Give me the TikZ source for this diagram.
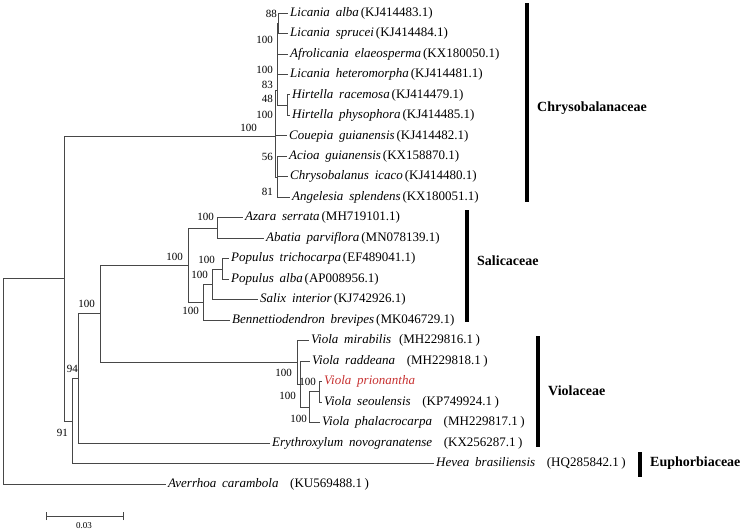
\documentclass[tikz,border=0pt]{standalone}
\usepackage{fontspec}
\setmainfont{Liberation Serif}
\definecolor{vred}{RGB}{200,50,50}
\newcommand\spa[3]{\textit{#1}\hspace{0.45em}\textit{#2}\hspace{0.15em}(#3)}
\newcommand\spb[3]{\textit{#1}\hspace{0.45em}\textit{#2}\hspace{0.9em}(#3\hspace{0.2em})}
\begin{document}
\begin{tikzpicture}[x=1pt,y=-1pt,
  br/.style={draw=black!72, line width=0.85pt},
  leaf/.style={anchor=west, inner xsep=2pt, inner ysep=0pt, font=\fontsize{13}{15}\selectfont, text height=8.8pt, text depth=2.6pt},
  bs/.style={anchor=east, inner sep=0pt, font=\fontsize{11}{12}\selectfont},
  fam/.style={anchor=west, inner sep=0pt, font=\fontsize{14}{16}\selectfont\bfseries},
  fbar/.style={line width=3.6pt, black}]
\useasboundingbox[fill=white] (0,0) rectangle (745,530);

% internal nodes
\coordinate (root) at (3,381.2);
\coordinate (n4) at (64,278.45);
\coordinate (n3) at (72.7,421);
\coordinate (n2) at (78,378.45);
\coordinate (sv) at (100,313.8);
\coordinate (s0) at (188,265.2);
\coordinate (s1) at (217,228.05);
\coordinate (s2) at (203,302.3);
\coordinate (s4) at (212,284.35);
\coordinate (s3) at (222,269);
\coordinate (v0) at (297,362.45);
\coordinate (v1) at (300,384.2);
\coordinate (v2) at (309,407.2);
\coordinate (v3) at (319,391.85);
\coordinate (c0) at (275,136);
\coordinate (cb) at (277,90);
\coordinate (ca) at (278.5,23.25);
\coordinate (ch) at (287,105.15);
\coordinate (cc) at (277,177);

% leaves
\node[leaf] (l0) at (288,13.0) {\spa{Licania}{alba}{KJ414483.1}};
\node[leaf] (l1) at (288,33.5) {\spa{Licania}{sprucei}{KJ414484.1}};
\node[leaf] (l2) at (288,54.0) {\spa{Afrolicania}{elaeosperma}{KX180050.1}};
\node[leaf] (l3) at (288,74.4) {\spa{Licania}{heteromorpha}{KJ414481.1}};
\node[leaf] (l4) at (290,94.9) {\spa{Hirtella}{racemosa}{KJ414479.1}};
\node[leaf] (l5) at (290,115.4) {\spa{Hirtella}{physophora}{KJ414485.1}};
\node[leaf] (l6) at (287,135.9) {\spa{Couepia}{guianensis}{KJ414482.1}};
\node[leaf] (l7) at (287,156.4) {\spa{Acioa}{guianensis}{KX158870.1}};
\node[leaf] (l8) at (288,176.8) {\spa{Chrysobalanus}{icaco}{KJ414480.1}};
\node[leaf] (l9) at (290,197.3) {\spa{Angelesia}{splendens}{KX180051.1}};
\node[leaf] (l10) at (243,217.8) {\spa{Azara}{serrata}{MH719101.1}};
\node[leaf] (l11) at (264,238.3) {\spa{Abatia}{parviflora}{MN078139.1}};
\node[leaf] (l12) at (229,258.8) {\spa{Populus}{trichocarpa}{EF489041.1}};
\node[leaf] (l13) at (229,279.2) {\spa{Populus}{alba}{AP008956.1}};
\node[leaf] (l14) at (258,299.7) {\spa{Salix}{interior}{KJ742926.1}};
\node[leaf] (l15) at (230,320.2) {\spa{Bennettiodendron}{brevipes}{MK046729.1}};
\node[leaf] (l16) at (309,340.7) {\textit{Viola}\hspace{0.45em}\textit{mirabilis}\hspace{0.6em}(MH229816.1\hspace{0.2em})};
\node[leaf] (l17) at (310,361.2) {\spb{Viola}{raddeana}{MH229818.1}};
\node[leaf,text=vred] (l18) at (322,381.6) {\textit{Viola}\hspace{0.45em}\textit{prionantha}};
\node[leaf] (l19) at (322,402.1) {\spb{Viola}{seoulensis}{KP749924.1}};
\node[leaf] (l20) at (320,422.6) {\spb{Viola}{phalacrocarpa}{MH229817.1}};
\node[leaf] (l21) at (270,443.1) {\spb{Erythroxylum}{novogranatense}{KX256287.1}};
\node[leaf] (l22) at (434,463.6) {\spb{Hevea}{brasiliensis}{HQ285842.1}};
\node[leaf] (l23) at (166,484.0) {\spb{Averrhoa}{carambola}{KU569488.1}};

% branches
\draw[br] (root) |- (n4);
\draw[br] (root) |- (l23.west);
\draw[br] (n4) |- (c0);
\draw[br] (n4) |- (n3);
\draw[br] (n3) |- (n2);
\draw[br] (n3) |- (l22.west);
\draw[br] (n2) |- (sv);
\draw[br] (n2) |- (l21.west);
\draw[br] (sv) |- (s0);
\draw[br] (sv) |- (v0);
% Chrysobalanaceae
\draw[br] (c0) |- (cb);
\draw[br] (c0) |- (l6.west);
\draw[br] (c0) |- (cc);
\draw[br] (cb) |- (ca);
\draw[br] (cb) |- (l2.west);
\draw[br] (cb) |- (l3.west);
\draw[br] (cb) |- (ch);
\draw[br] (ca) |- (l0.west);
\draw[br] (ca) |- (l1.west);
\draw[br] (ch) |- (l4.west);
\draw[br] (ch) |- (l5.west);
\draw[br] (cc) |- (l7.west);
\draw[br] (cc) |- (l8.west);
\draw[br] (cc) |- (l9.west);
% Salicaceae
\draw[br] (s0) |- (s1);
\draw[br] (s0) |- (s2);
\draw[br] (s1) |- (l10.west);
\draw[br] (s1) |- (l11.west);
\draw[br] (s2) |- (s4);
\draw[br] (s2) |- (l15.west);
\draw[br] (s4) |- (s3);
\draw[br] (s4) |- (l14.west);
\draw[br] (s3) |- (l12.west);
\draw[br] (s3) |- (l13.west);
% Violaceae
\draw[br] (v0) |- (l16.west);
\draw[br] (v0) |- (v1);
\draw[br] (v1) |- (l17.west);
\draw[br] (v1) |- (v2);
\draw[br] (v2) |- (v3);
\draw[br] (v2) |- (l20.west);
\draw[br] (v3) |- (l18.west);
\draw[br] (v3) |- (l19.west);

% bootstrap values
\node[bs] (b1) at (277,13.5) {88};
\node[bs] (b2) at (273,40) {100};
\node[bs] (b3) at (273,70) {100};
\node[bs] (b4) at (273,85) {83};
\node[bs] (b5) at (273,99) {48};
\node[bs] (b6) at (273,115) {100};
\node[bs] (b7) at (257,128) {100};
\node[bs] (b8) at (273,157) {56};
\node[bs] (b9) at (273,192) {81};
\node[bs] (b10) at (214,217) {100};
\node[bs] (b11) at (183,257) {100};
\node[bs] (b12) at (215,260) {100};
\node[bs] (b13) at (208,275) {100};
\node[bs] (b14) at (199,311) {100};
\node[bs] (b15) at (95,304) {100};
\node[bs] (b16) at (292,373) {100};
\node[bs] (b17) at (316,382) {100};
\node[bs] (b18) at (296,396) {100};
\node[bs] (b19) at (307,419) {100};
\node[bs] (b20) at (78,369) {94};
\node[bs] (b21) at (68,433) {91};

% family bars
\draw[fbar] (527,3) coordinate (fa1) -- (527,202) coordinate (fa2);
\node[fam] (fa) at (537,108) {Chrysobalanaceae};
\draw[fbar] (467,210) coordinate (fb1) -- (467,322) coordinate (fb2);
\node[fam] (fb) at (477,261) {Salicaceae};
\draw[fbar] (538,336) coordinate (fc1) -- (538,447) coordinate (fc2);
\node[fam] (fc) at (548,391) {Violaceae};
\draw[fbar] (640,452) coordinate (fd1) -- (640,477) coordinate (fd2);
\node[fam] (fd) at (650,463) {Euphorbiaceae};

% scale bar
\coordinate (sb1) at (46,516);
\coordinate (sb2) at (123,516);
\draw[br] (sb1) -- (sb2);
\draw[br] ([yshift=-4pt]sb1) -- ([yshift=4pt]sb1);
\draw[br] ([yshift=-4pt]sb2) -- ([yshift=4pt]sb2);
\node[inner sep=0pt, font=\fontsize{9}{10}\selectfont] (sbl) at (84,525.5) {0.03};
\end{tikzpicture}
\end{document}
